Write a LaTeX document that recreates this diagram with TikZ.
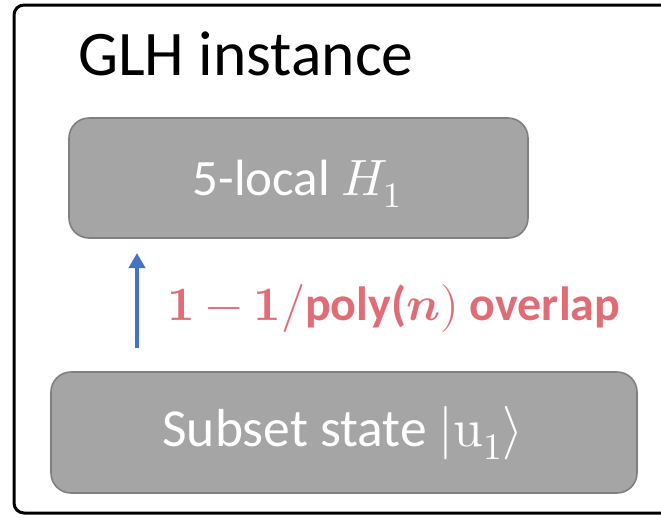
\documentclass[tikz,border=0pt]{standalone}
\usepackage{amsmath}
\usepackage{fontspec}
\usepackage{unicode-math}
\setmainfont{Carlito}
\setmathfont{Latin Modern Math}
\usetikzlibrary{arrows.meta}
\definecolor{boxfill}{RGB}{165,165,165}
\definecolor{boxline}{RGB}{128,128,128}
\definecolor{arrblue}{RGB}{68,114,196}
\definecolor{lblred}{RGB}{224,108,117}
\newcommand{\lbltext}{$\symbf{1}-\symbf{1}/$\textbf{poly(}$\symbfit{n})$ \textbf{overlap}}
\tikzset{
  graybox/.style={draw=boxline, line width=1.6pt, fill=boxfill, rounded corners=20pt, inner sep=0pt},
  boxtext/.style={text=white, inner sep=0pt, anchor=base},
  uparrow/.style={draw=arrblue, line width=3.6pt, -{Triangle[width=16pt,length=15pt]}},
}
\begin{document}
\begin{tikzpicture}[x=1pt,y=-1pt]
\useasboundingbox (0,0) rectangle (661,517);
\clip (0,0) rectangle (661,517);
\draw[line width=3pt, rounded corners=10pt] (14,5) rectangle (700,513);
\node[inner sep=0pt, anchor=base west, font=\fontsize{63.5}{70}\selectfont] (title) at (78,75) {GLH instance};
\node[graybox, minimum width=459pt, minimum height=120pt] (top) at (298.5,178) {};
\node[boxtext, font=\fontsize{51}{58}\selectfont] (toptext) at (297.5,195) {5-local $H_1$};
\node[graybox, minimum width=586pt, minimum height=121pt] (bot) at (344,432.5) {};
\node[boxtext, font=\fontsize{53.5}{60}\selectfont] (bottext) at (343,446) {Subset state $|\symup{u}_1\rangle$};
\coordinate (as) at (137,348);
\coordinate (ae) at (137,253);
\draw[uparrow] (as) -- (ae);
\node[inner sep=0pt, anchor=base west, text=lblred, font=\fontsize{48}{55}\selectfont] (lbl) at (167,320) {\lbltext};
\end{tikzpicture}
\end{document}
